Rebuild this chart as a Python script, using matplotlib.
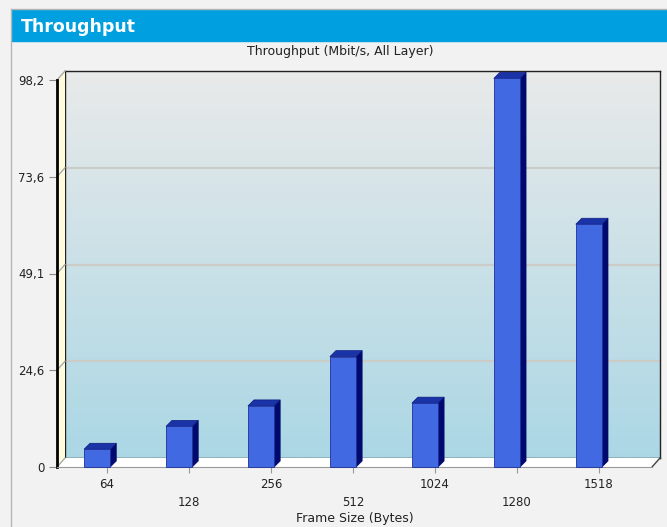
import matplotlib
matplotlib.use("Agg")
import matplotlib.pyplot as plt
import numpy as np
from matplotlib.patches import Polygon, Rectangle
from matplotlib.lines import Line2D
from matplotlib.transforms import IdentityTransform

# data
frame_sizes = ["64", "128", "256", "512", "1024", "1280", "1518"]
throughput = [4.5, 10.3, 15.5, 28.0, 16.2, 98.6, 61.6]
y_ticks = [0, 24.55, 49.1, 73.65, 98.2]
y_tick_labels = ["0", "24,6", "49,1", "73,6", "98,2"]

W, H = 667, 527
fig = plt.figure(figsize=(W / 100, H / 100), dpi=100, facecolor="#f2f2f2")


def fig_box(x0, y0, x1, y1):
    # pixel box (top-left origin) -> figure fraction rect
    return [x0 / W, 1 - y1 / H, (x1 - x0) / W, (y1 - y0) / H]


DX, DY = 8, 9      # depth of the 3d box (pixels)
BX, BY = 6, 6      # depth of the bars (pixels)
BW = 0.32          # bar width
x = np.arange(len(frame_sizes))
xlim = (-0.49, 6.77)
ylim = (0, 98.2)

# back wall with gradient and grid lines
back = fig.add_axes(fig_box(57 + DX, 80 - DY, 652 + DX, 467 - DY))
back.set_xlim(xlim)
back.set_ylim(ylim)
top_c = np.array([233, 234, 234]) / 255
bot_c = np.array([171, 215, 229]) / 255
t = np.linspace(0, 1, 256)[:, None]
grad = (top_c * (1 - t) + bot_c * t)[:, None, :]
back.imshow(grad, extent=[0, 1, 0, 1], transform=back.transAxes, aspect="auto", zorder=0)
for yt in y_ticks[1:]:
    back.axhline(yt, color="#cbcbc8", lw=1.6, zorder=1)
back.set_xticks([])
back.set_yticks([])
for s in back.spines.values():
    s.set_color("#222222")
    s.set_linewidth(1)

# front plane
ax = fig.add_axes(fig_box(57, 80, 652, 467))
ax.set_facecolor("none")
ax.set_xlim(xlim)
ax.set_ylim(ylim)

ident = IdentityTransform()
(fx0, fy0), (fx1, fy1) = ax.transAxes.transform([(0, 0), (1, 1)])

# left wall
ax.add_patch(Polygon([(fx0, fy0), (fx0, fy1), (fx0 + DX, fy1 + DY), (fx0 + DX, fy0 + DY)],
                     closed=True, transform=ident, facecolor="#fffcdc", edgecolor="none",
                     clip_on=False, zorder=1))
for yt in y_ticks:
    _, py = ax.transData.transform((0, yt))
    ax.add_line(Line2D([fx0, fx0 + DX], [py, py + DY], transform=ident, color="#aaaaaa",
                       lw=1, clip_on=False, zorder=1.5))

# floor
ax.add_patch(Polygon([(fx0, fy0), (fx1, fy0), (fx1 + DX, fy0 + DY), (fx0 + DX, fy0 + DY)],
                     closed=True, transform=ident, facecolor="white", edgecolor="none",
                     clip_on=False, zorder=1))
ax.add_line(Line2D([fx1, fx1 + DX], [fy0, fy0 + DY], transform=ident, color="#444444",
                   lw=1, clip_on=False, zorder=1.5))

# bars: front face + side + top
ax.bar(x, throughput, width=BW, color="#4169e1", edgecolor="#1f2f9a", lw=0.6,
       zorder=3, clip_on=False)
for i, v in zip(x, throughput):
    xl, yb = ax.transData.transform((i - BW / 2, 0))
    xr, yt = ax.transData.transform((i + BW / 2, v))
    ax.add_patch(Polygon([(xr, yb), (xr + BX, yb + BY), (xr + BX, yt + BY), (xr, yt)],
                         closed=True, transform=ident, facecolor="#000a6e",
                         edgecolor="#000a6e", lw=0.5, clip_on=False, zorder=2.5))
    ax.add_patch(Polygon([(xl, yt), (xr, yt), (xr + BX, yt + BY), (xl + BX, yt + BY)],
                         closed=True, transform=ident, facecolor="#1a33a6",
                         edgecolor="#0c1a80", lw=0.5, clip_on=False, zorder=2.5))

# axes styling
for side in ["top", "right"]:
    ax.spines[side].set_visible(False)
ax.spines["left"].set_color("black")
ax.spines["left"].set_linewidth(2)
ax.spines["bottom"].set_color("#999999")
ax.spines["bottom"].set_linewidth(0.8)

ax.set_yticks(y_ticks)
ax.set_yticklabels(y_tick_labels)
ax.tick_params(axis="y", length=6, width=0.8, color="#888888", pad=3,
               labelsize=8.5, labelcolor="#222222")

ax.set_xticks(x + 0.12)
ax.set_xticklabels(frame_sizes)
ax.tick_params(axis="x", length=4, width=0.8, color="#999999", pad=4,
               labelsize=8.5, labelcolor="#222222")
for i, tk in enumerate(ax.xaxis.get_major_ticks()):
    if i % 2 == 1:
        tk.set_pad(17)
ax.set_xlabel("Frame Size (Bytes)", fontsize=9, labelpad=2, color="#222222")

# titles and header
fig.text(340 / W, 1 - 52 / H, "Throughput (Mbit/s, All Layer)", ha="center", va="center",
         fontsize=9, color="#222222")
fig.add_artist(Rectangle((12 / W, 1 - 41 / H), (W - 12) / W, 31 / H,
                         transform=fig.transFigure, color="#009fe0"))
fig.text(21 / W, 1 - 27 / H, "Throughput", ha="left", va="center", fontsize=12.5,
         fontweight="bold", color="white")
fig.add_artist(Line2D([10.5 / W, 10.5 / W], [0, 1 - 8.5 / H], transform=fig.transFigure,
                      color="#b5b5b5", lw=1))
fig.add_artist(Line2D([10.5 / W, 1], [1 - 8.5 / H, 1 - 8.5 / H], transform=fig.transFigure,
                      color="#b5b5b5", lw=1))

fig.savefig("out.png", dpi=100, facecolor=fig.get_facecolor())
